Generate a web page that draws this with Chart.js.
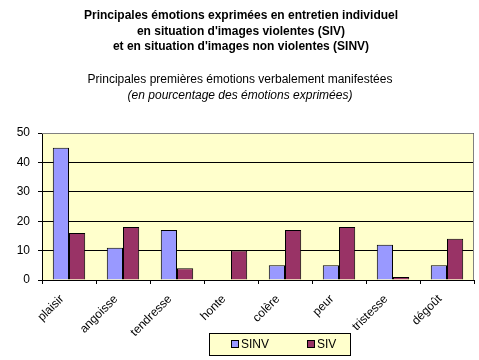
<!DOCTYPE html>
<html>
<head>
<meta charset="utf-8">
<script src="https://cdn.jsdelivr.net/npm/chart.js@4.4.0/dist/chart.umd.min.js"></script>
<style>
  html, body { margin: 0; padding: 0; background: #fff; }
  #wrap { width: 479px; height: 360px; position: relative; }
</style>
</head>
<body>
<div id="wrap"><canvas id="chart"></canvas></div>
<script>
'use strict';

// --- data -----------------------------------------------------------
const categories = ['plaisir', 'angoisse', 'tendresse', 'honte', 'colère', 'peur', 'tristesse', 'dégoût'];
const sinvValues = [45, 11, 17, 0, 5, 5, 12, 5];
const sivValues  = [16, 18, 4, 10, 17, 18, 1, 14];
const yTicks     = [0, 10, 20, 30, 40, 50];

const titleLines = [
    'Principales émotions exprimées en entretien individuel',
    "en situation d'images violentes (SIV)",
    "et en situation d'images non violentes (SINV)",
];
const subtitle     = 'Principales premières émotions verbalement manifestées';
const subtitleNote = '(en pourcentage des émotions exprimées)';

const FONT = '"Liberation Sans", Arial, sans-serif';

// header text (bold title + plain subtitle + italic note)
const headerPlugin = {
    id: 'header',
    afterDraw(chart) {
        const ctx = chart.ctx;
        ctx.save();
        ctx.fillStyle = '#000';
        ctx.textAlign = 'center';
        ctx.textBaseline = 'middle';
        ctx.font = `bold 12px ${FONT}`;
        titleLines.forEach((t, i) => ctx.fillText(t, 241, 16 + i * 15.5));
        ctx.font = `12px ${FONT}`;
        ctx.fillText(subtitle, 240, 80);
        ctx.font = `italic 12px ${FONT}`;
        ctx.fillText(subtitleNote, 240, 96);
        ctx.restore();
    },
};

// yellow plot background + grey frame on top/right
const plotAreaPlugin = {
    id: 'plotArea',
    beforeDraw(chart) {
        const { ctx, chartArea: a } = chart;
        ctx.save();
        ctx.fillStyle = '#FFFFCC';
        ctx.fillRect(a.left, a.top, a.right - a.left, a.bottom - a.top);
        ctx.restore();
    },
    afterDatasetsDraw(chart) {
        const { ctx, chartArea: a } = chart;
        ctx.save();
        ctx.strokeStyle = '#808080';
        ctx.lineWidth = 1;
        ctx.beginPath();
        ctx.moveTo(a.left, a.top + 0.5);
        ctx.lineTo(a.right - 0.5, a.top + 0.5);
        ctx.lineTo(a.right - 0.5, a.bottom);
        ctx.stroke();
        ctx.restore();
    },
};

// boxed legend, placed like the original
const boxLegendPlugin = {
    id: 'boxLegend',
    afterDraw(chart) {
        const ctx = chart.ctx;
        const box = { x: 209.5, y: 333.5, w: 141, h: 22 };
        ctx.save();
        ctx.fillStyle = '#FFFFCC';
        ctx.strokeStyle = '#000';
        ctx.lineWidth = 1;
        ctx.fillRect(box.x, box.y, box.w, box.h);
        ctx.strokeRect(box.x, box.y, box.w, box.h);
        ctx.font = `12px ${FONT}`;
        ctx.textBaseline = 'middle';
        ctx.textAlign = 'left';
        const xs = [231, 307];
        chart.data.datasets.forEach((ds, i) => {
            ctx.fillStyle = ds.backgroundColor;
            ctx.fillRect(xs[i] + 0.5, 340.5, 7, 7);
            ctx.strokeRect(xs[i] + 0.5, 340.5, 7, 7);
            ctx.fillStyle = '#000';
            ctx.fillText(ds.label, xs[i] + 10, 345);
        });
        ctx.restore();
    },
};

new Chart(document.getElementById('chart').getContext('2d'), {
    type: 'bar',
    data: {
        labels: categories,
        datasets: [
            { label: 'SINV', data: sinvValues, backgroundColor: '#9999FF' },
            { label: 'SIV',  data: sivValues,  backgroundColor: '#993366' },
        ],
    },
    options: {
        responsive: true,
        maintainAspectRatio: false,
        animation: false,
        datasets: {
            bar: {
                borderColor: '#000',
                borderWidth: 1,
                borderSkipped: 'bottom',
                categoryPercentage: 0.6,
                barPercentage: 1,
            },
        },
        layout: { padding: { top: 133, right: 5, bottom: 15, left: 0 } },
        plugins: {
            legend:  { display: false },
            tooltip: { enabled: false },
        },
        scales: {
            x: {
                offset: true,
                grid: {
                    offset: true,
                    drawOnChartArea: false,
                    drawTicks: true,
                    tickLength: 4,
                    color: '#000',
                },
                border: { color: '#000', width: 1 },
                ticks: {
                    color: '#000',
                    font: { family: FONT, size: 12 },
                    minRotation: 45,
                    maxRotation: 45,
                    padding: 8,
                    labelOffset: -7,
                },
                afterFit(scale) { scale.height = 65; },
            },
            y: {
                min: 0,
                max: 50,
                afterBuildTicks(scale) { scale.ticks = yTicks.map(v => ({ value: v })); },
                grid: {
                    color: '#000',
                    tickLength: 4,
                    drawTicks: true,
                },
                border: { color: '#000', width: 1 },
                ticks: {
                    color: '#000',
                    font: { family: FONT, size: 12 },
                    padding: 8,
                },
                afterFit(scale) { scale.width = 42; },
            },
        },
    },
    plugins: [plotAreaPlugin, headerPlugin, boxLegendPlugin],
});
</script>
</body>
</html>
